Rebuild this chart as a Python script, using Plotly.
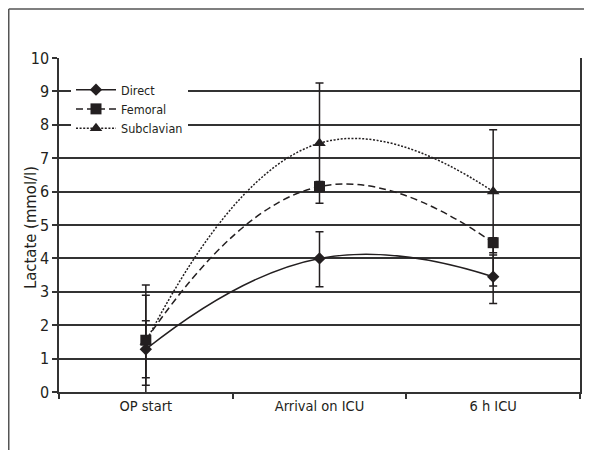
import plotly.graph_objects as go

categories = ["OP start", "Arrival on ICU", "6 h ICU"]
series_names = ["Direct", "Femoral", "Subclavian"]
direct = [1.28, 4.0, 3.45]
femoral = [1.55, 6.15, 4.47]
subclavian = [1.5, 7.45, 6.0]
direct_err_plus = [0.85, 0.8, 0.65]
direct_err_minus = [0.85, 0.85, 0.8]
femoral_err_plus = [1.35, 0.15, 0.15]
femoral_err_minus = [1.35, 0.15, 1.3]
subclavian_err_plus = [1.7, 1.8, 1.85]
subclavian_err_minus = [1.7, 1.8, 1.83]
y_ticks = list(range(0, 11))
y_title = "Lactate (mmol/l)"

ink = "#231f20"
font_family = "DejaVu Sans Condensed, Liberation Sans Narrow, sans-serif"

# page body has an 8px margin, so figure coordinates are offset by 8px
L, R, T, B = 51, 572, 50, 384
W, H = 592, 450
PW, PH = R - L, B - T

styles = [
    dict(symbol="diamond", size=9.5, dash="solid"),
    dict(symbol="square", size=11, dash="7px,4px"),
    dict(symbol="triangle-up", size=11, dash="2px,1.6px"),
]
values = [direct, femoral, subclavian]
errors = [(direct_err_plus, direct_err_minus),
          (femoral_err_plus, femoral_err_minus),
          (subclavian_err_plus, subclavian_err_minus)]

fig = go.Figure()
for name, vals, (ep, em), st in zip(series_names, values, errors, styles):
    fig.add_trace(go.Scatter(
        x=categories, y=vals, name=name, mode="lines+markers",
        line=dict(color=ink, width=1.5, dash=st["dash"], shape="spline", smoothing=1.3),
        marker=dict(symbol=st["symbol"], size=st["size"], color=ink),
        error_y=dict(type="data", array=ep, arrayminus=em, symmetric=False,
                     color=ink, thickness=1.5, width=4),
    ))

def px(x):
    return (x - L) / PW

def py(y):
    return (B - y) / PH

fig.update_layout(
    width=W, height=H,
    margin=dict(l=L, r=W - R, t=T, b=H - B),
    paper_bgcolor="white", plot_bgcolor="white",
    font=dict(family=font_family, color=ink, size=14),
    showlegend=True,
    legend=dict(x=px(63), y=py(67), xanchor="left", yanchor="top",
                bgcolor="white", borderwidth=0, itemwidth=40,
                font=dict(size=12.5, family=font_family, color=ink),
                tracegroupgap=0),
    xaxis=dict(type="category", range=[-0.5, 2.5], showgrid=False,
               showline=True, linecolor="#333", linewidth=1.5,
               ticks="outside", tickson="boundaries", ticklen=5, tickcolor="#333", tickwidth=1.5,
               tickfont=dict(size=14.5), fixedrange=True),
    yaxis=dict(range=[0, 10], tickvals=y_ticks, showgrid=True, gridcolor="#333", gridwidth=1.5,
               showline=True, linecolor="#333", linewidth=1.5, mirror=True,
               ticks="outside", ticklen=5, tickcolor="#333", tickwidth=1.5,
               tickfont=dict(size=16), zeroline=False),
    annotations=[
        dict(text=y_title, xref="paper", yref="paper", x=px(22), y=py(220),
             xanchor="center", yanchor="middle", textangle=-90, showarrow=False,
             font=dict(size=16.5, family=font_family, color=ink)),
    ],
    shapes=[
        dict(type="line", xref="paper", yref="paper", x0=px(0.75), x1=px(W + 10),
             y0=py(1), y1=py(1), line=dict(color="#555", width=1.5)),
        dict(type="line", xref="paper", yref="paper", x0=px(0.75), x1=px(0.75),
             y0=py(1), y1=py(H + 10), line=dict(color="#555", width=1.5)),
    ],
)

fig.write_html("out.html")
